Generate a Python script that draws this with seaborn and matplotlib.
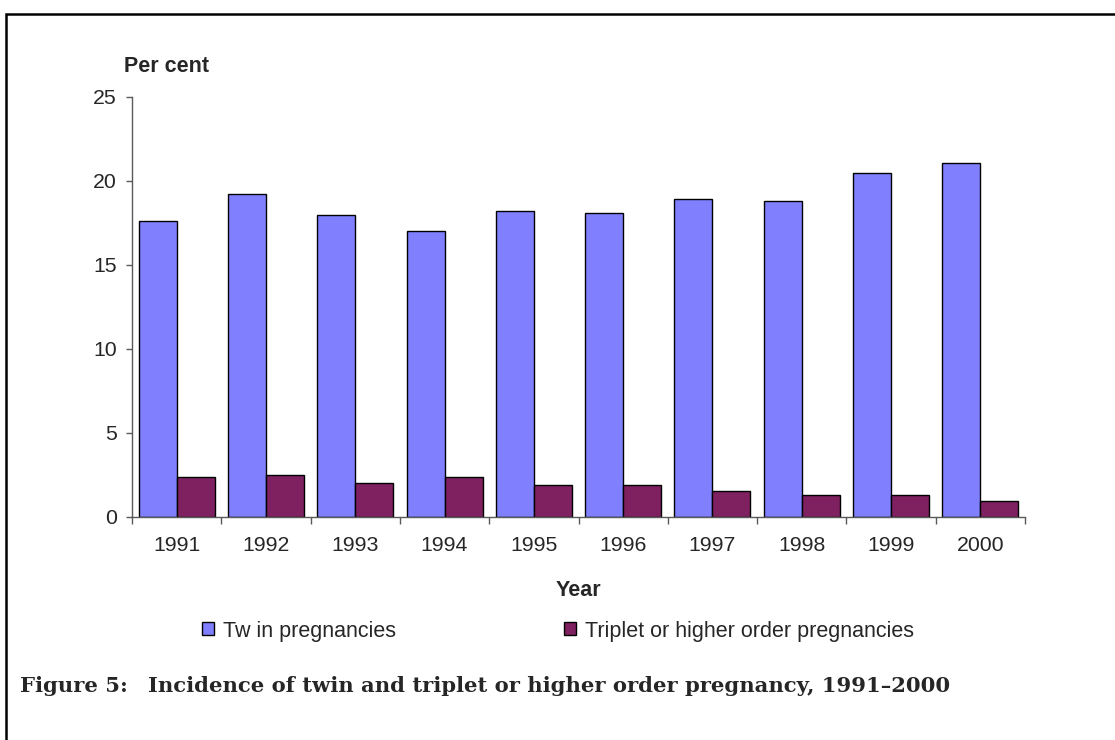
import pandas as pd
import numpy as np
import matplotlib
matplotlib.use("Agg")
import matplotlib.pyplot as plt
import seaborn as sns
from matplotlib.lines import Line2D

# ---------- Data ----------
years = ["1991", "1992", "1993", "1994", "1995", "1996", "1997", "1998", "1999", "2000"]
twin = [17.6, 19.2, 18.0, 17.0, 18.2, 18.1, 18.9, 18.8, 20.5, 21.05]
triplet = [2.4, 2.5, 2.0, 2.4, 1.9, 1.9, 1.55, 1.3, 1.3, 0.95]
series_names = ["Tw in pregnancies", "Triplet or higher order pregnancies"]
colors = ["#8080FF", "#7F2060"]

df = pd.DataFrame({
    "Year": years * 2,
    "Value": twin + triplet,
    "Series": [series_names[0]] * len(years) + [series_names[1]] * len(years),
})

# ---------- Style ----------
sns.set_style("white")
plt.rcParams["font.family"] = ["Liberation Sans", "DejaVu Sans"]
FS = 15.3

W, H = 1115, 740
fig = plt.figure(figsize=(W / 100, H / 100), dpi=100)
ax = fig.add_axes([132 / W, 1 - 517 / H, (1025 - 132) / W, (517 - 97) / H])

sns.barplot(data=df, x="Year", y="Value", hue="Series", palette=colors,
            width=0.85, gap=0, edgecolor="black", linewidth=1,
            saturation=1, ax=ax, legend=True)

ax.set_ylim(0, 25)
ax.set_yticks(range(0, 26, 5))
ax.set_xlim(-0.5, len(years) - 0.5)
ax.set_xlabel("")
ax.set_ylabel("")

# spines / ticks
for s in ["top", "right"]:
    ax.spines[s].set_visible(False)
for s in ["left", "bottom"]:
    ax.spines[s].set_color("0.35")
    ax.spines[s].set_linewidth(1)

ax.tick_params(axis="y", which="major", length=4, width=1, color="0.35",
               pad=7, labelsize=FS, left=True, direction="out")
ax.tick_params(axis="x", which="major", length=0, pad=14, labelsize=FS)
ax.set_xticks(np.arange(-0.5, len(years)), minor=True)
ax.tick_params(axis="x", which="minor", length=5, width=1, color="0.35",
               bottom=True, direction="out")

# texts
fig.text(166 / W, 1 - 66.5 / H, "Per cent", ha="center", va="center",
         fontsize=15.5, fontweight="bold")
fig.text(578 / W, 1 - 590 / H, "Year", ha="center", va="center",
         fontsize=15.5, fontweight="bold")

# legend
handles, labels = ax.get_legend_handles_labels()
ax.get_legend().remove()
fig.legend(handles, labels, loc="center left",
           bbox_to_anchor=(202 / W, 1 - 631 / H), ncol=2, frameon=False,
           fontsize=15.5, handlelength=0.55, handleheight=0.55,
           handletextpad=0.42, columnspacing=7.8, borderpad=0, borderaxespad=0)

# caption
fig.text(20 / W, 1 - 686 / H, "Figure 5:", ha="left", va="center",
         fontsize=15.2, fontweight="bold", family="DejaVu Serif")
fig.text(148 / W, 1 - 686 / H,
         "Incidence of twin and triplet or higher order pregnancy, 1991\u20132000",
         ha="left", va="center", fontsize=15.2, fontweight="bold",
         family="DejaVu Serif")

# frame around the figure
bx, by = 6 / W, 1 - 13.5 / H
fig.add_artist(Line2D([bx, bx, 1.0], [0.0, by, by], transform=fig.transFigure,
                      color="black", lw=1.8, solid_joinstyle="miter"))

fig.savefig("out.png", dpi=100)
plt.close(fig)
